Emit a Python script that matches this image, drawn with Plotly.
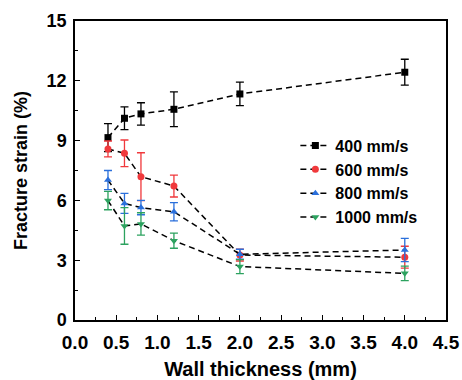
import plotly.graph_objects as go

thickness = [0.4, 0.6, 0.8, 1.2, 2.0, 4.0]

s400 = [9.15, 10.12, 10.34, 10.57, 11.34, 12.43]
e400 = [0.70, 0.57, 0.56, 0.87, 0.59, 0.65]

s600 = [8.58, 8.36, 7.19, 6.72, 3.26, 3.15]
e600 = [0.40, 0.67, 1.20, 0.55, 0.30, 0.55]

s800 = [7.02, 5.85, 5.64, 5.43, 3.30, 3.51]
e800 = [0.48, 0.50, 0.36, 0.46, 0.25, 0.58]

s1000 = [5.99, 4.72, 4.82, 3.98, 2.68, 2.34]
e1000 = [0.46, 0.92, 0.56, 0.38, 0.35, 0.36]

series = [
    ("400 mm/s", s400, e400, "#000000", "square"),
    ("600 mm/s", s600, e600, "#f0393c", "circle"),
    ("800 mm/s", s800, e800, "#2a6fdb", "triangle-up"),
    ("1000 mm/s", s1000, e1000, "#2ca25f", "triangle-down"),
]

font = "Liberation Sans, Arial, sans-serif"

fig = go.Figure()
for name, ys, es, col, sym in series:
    fig.add_trace(go.Scatter(
        x=thickness, y=ys, name=name, mode="lines+markers",
        line=dict(color="black", width=1.5, dash="6px,4px"),
        marker=dict(color=col, symbol=sym, size=7),
        error_y=dict(type="data", array=es, visible=True, color=col,
                     thickness=1.3, width=4),
    ))

axis_common = dict(
    showline=True, linecolor="black", linewidth=1.5, mirror=True,
    ticks="inside", tickcolor="black", tickwidth=1.2, ticklen=5,
    showgrid=False, zeroline=False, automargin=False,
)

fig.update_xaxes(
    range=[0, 4.5], dtick=0.5, tickformat=".1f",
    tickfont=dict(family=font, size=19, color="black", weight="bold"),
    ticklabelstandoff=4,
    minor=dict(dtick=0.25, ticks="inside", ticklen=3, tickcolor="black", tickwidth=1),
    title=dict(text="<b>Wall thickness (mm)</b>", font=dict(family=font, size=20, color="black"), standoff=11),
    **axis_common,
)
fig.update_yaxes(
    range=[0, 15], dtick=3,
    tickfont=dict(family=font, size=18, color="black", weight="bold"),
    ticklabelstandoff=3,
    minor=dict(dtick=1.5, ticks="inside", ticklen=3, tickcolor="black", tickwidth=1),
    title=dict(text="<b>Fracture strain (%)</b>", font=dict(family=font, size=18, color="black"), standoff=14),
    **axis_common,
)

fig.update_layout(
    width=462, height=380,
    margin=dict(l=75, r=16, t=21, b=60),
    paper_bgcolor="white", plot_bgcolor="white",
    showlegend=True,
    legend=dict(x=0.594, y=0.64, xanchor="left", yanchor="top",
                bgcolor="rgba(0,0,0,0)", borderwidth=0,
                font=dict(family=font, size=16, color="black", weight="bold"),
                tracegroupgap=0),
)

fig.write_html("out.html")
